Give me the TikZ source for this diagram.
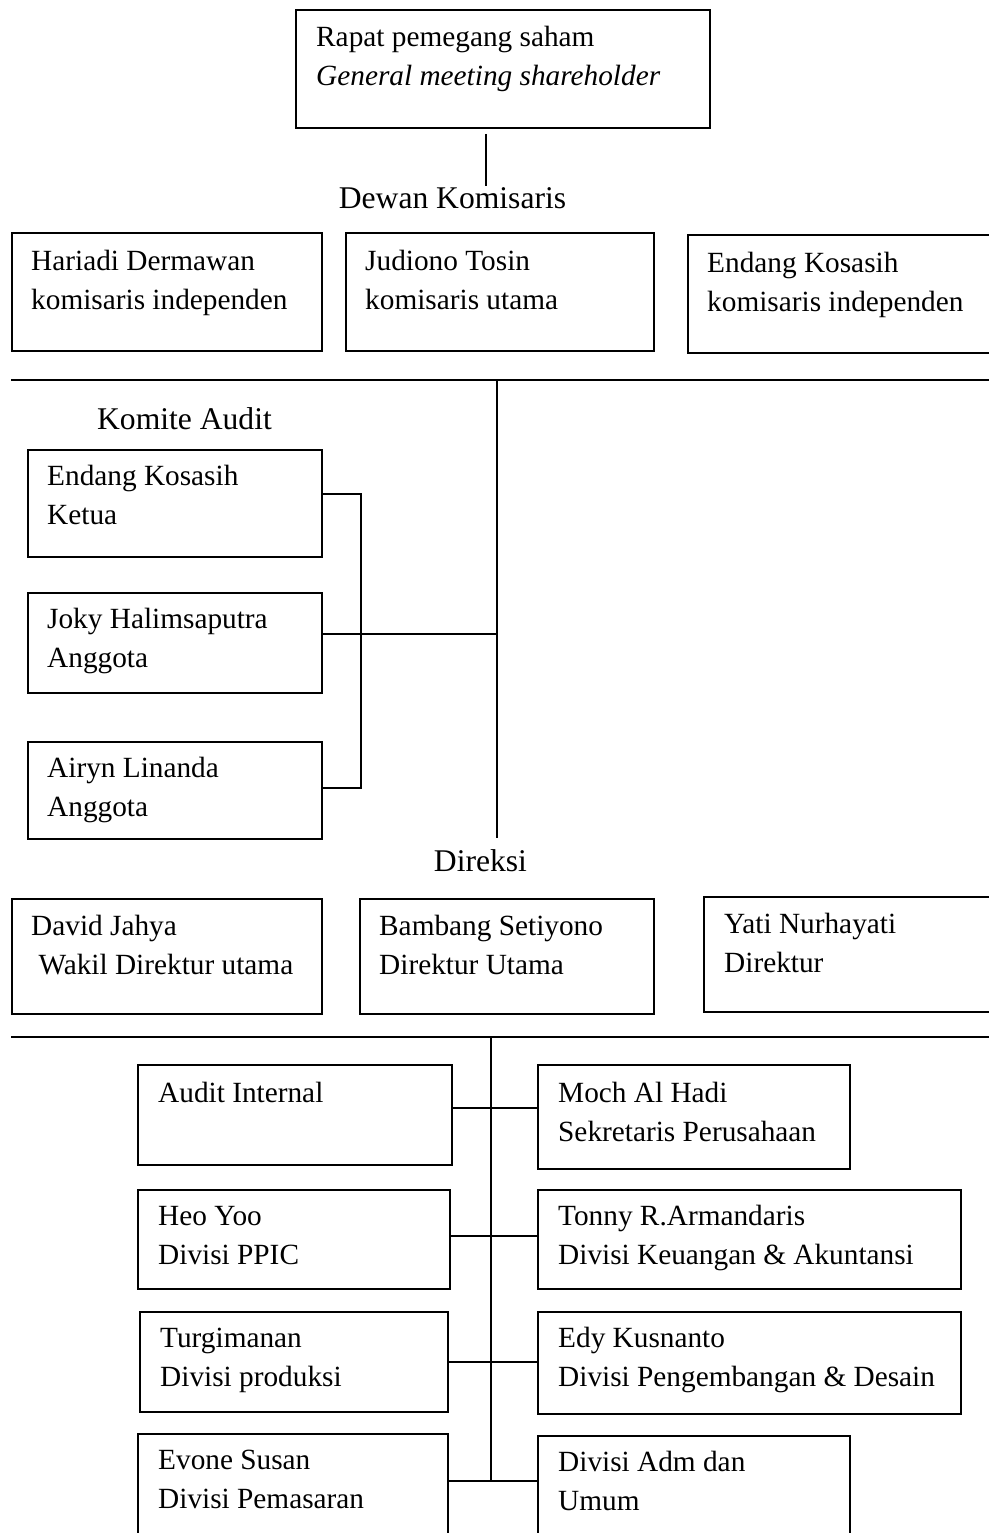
\documentclass[tikz,border=0pt]{standalone}
\usepackage{fontspec}
\setmainfont{Liberation Serif}
\newcommand\orgbody{\fontsize{29.3}{39}\selectfont}
\newcommand\orghead{\fontsize{31.6}{38}\selectfont}
\begin{document}
\begin{tikzpicture}[x=1pt,y=-1pt,
  box/.style={draw, line width=1.8pt, inner sep=0pt, anchor=north west},
  txt/.style={anchor=north west, inner sep=0pt, align=left, font=\orgbody},
  head/.style={anchor=base, inner sep=0pt, font=\orghead},
  wire/.style={line width=1.6pt}]
\useasboundingbox (0,0) rectangle (988,1533);
\fill[white] (0,0) rectangle (988,1533);

% top
\node[box, minimum width=414pt, minimum height=118pt] (rps) at (295,9) {};
\node[txt] (rpst) at ([xshift=21pt,yshift=-10.2pt]rps.north west) {\strut Rapat pemegang saham\\\textit{General meeting shareholder}};
\coordinate (v1a) at (486,134);
\coordinate (v1b) at (486,186);
\draw[wire] (v1a) -- (v1b);

% Dewan Komisaris
\node[head] (dk) at (452.5,208.3) {Dewan Komisaris};
\node[box, minimum width=310pt, minimum height=118pt] (hd) at (11,232) {};
\node[txt] (hdt) at ([xshift=20pt,yshift=-10.7pt]hd.north west) {\strut Hariadi Dermawan\\komisaris independen};
\node[box, minimum width=308pt, minimum height=118pt] (jt) at (345,232) {};
\node[txt] (jtt) at ([xshift=20pt,yshift=-10.7pt]jt.north west) {\strut Judiono Tosin\\komisaris utama};
\node[box, minimum width=340pt, minimum height=118pt] (ek) at (687,234) {};
\node[txt] (ekt) at ([xshift=20pt,yshift=-10.7pt]ek.north west) {\strut Endang Kosasih\\komisaris independen};

\coordinate (h1l) at (11,380);
\coordinate (h1r) at (995,380);
\draw[wire] (h1l) -- (h1r);
\coordinate (s1top) at (497,380);
\coordinate (s1bot) at (497,838);
\draw[wire] (s1top) -- (s1bot);

% Komite Audit
\node[head] (ka) at (184.5,429) {Komite Audit};
\node[box, minimum width=294pt, minimum height=107pt] (eka) at (27,449) {};
\node[txt] (ekat) at ([xshift=20pt,yshift=-8.7pt]eka.north west) {\strut Endang Kosasih\\Ketua};
\node[box, minimum width=294pt, minimum height=100pt] (jh) at (27,592) {};
\node[txt] (jht) at ([xshift=20pt,yshift=-8.7pt]jh.north west) {\strut Joky Halimsaputra\\Anggota};
\node[box, minimum width=294pt, minimum height=97pt] (al) at (27,741) {};
\node[txt] (alt) at ([xshift=20pt,yshift=-8.7pt]al.north west) {\strut Airyn Linanda\\Anggota};

\coordinate (b1) at (361,494);
\coordinate (b3) at (361,788);
\coordinate (b2) at (497,634);
\draw[wire] (b1 -| eka.east) -- (b1) -- (b3) -- (b3 -| al.east);
\draw[wire] (b2 -| jh.east) -- (b2);

% Direksi
\node[head] (dr) at (480.5,871) {Direksi};
\node[box, minimum width=310pt, minimum height=115pt] (dj) at (11,898) {};
\node[txt] (djt) at ([xshift=20pt,yshift=-9.7pt]dj.north west) {\strut David Jahya\\\hspace*{7.3pt}Wakil Direktur utama};
\node[box, minimum width=294pt, minimum height=115pt] (bs) at (359,898) {};
\node[txt] (bst) at ([xshift=20pt,yshift=-9.7pt]bs.north west) {\strut Bambang Setiyono\\Direktur Utama};
\node[box, minimum width=330pt, minimum height=115pt] (yn) at (703,896) {};
\node[txt] (ynt) at ([xshift=21pt,yshift=-9.7pt]yn.north west) {\strut Yati Nurhayati\\Direktur};

\coordinate (h2l) at (11,1037);
\coordinate (h2r) at (995,1037);
\draw[wire] (h2l) -- (h2r);
\coordinate (s2top) at (491,1037);
\coordinate (s2bot) at (491,1481);
\draw[wire] (s2top) -- (s2bot);

% divisions
\node[box, minimum width=314pt, minimum height=100pt] (ai) at (137,1064) {};
\node[txt] (ait) at ([xshift=21pt,yshift=-10.7pt]ai.north west) {\strut Audit Internal};
\node[box, minimum width=312pt, minimum height=104pt] (mah) at (537,1064) {};
\node[txt] (maht) at ([xshift=21pt,yshift=-10.7pt]mah.north west) {\strut Moch Al Hadi\\Sekretaris Perusahaan};

\node[box, minimum width=312pt, minimum height=99pt] (hy) at (137,1189) {};
\node[txt] (hyt) at ([xshift=21pt,yshift=-8.7pt]hy.north west) {\strut Heo Yoo\\Divisi PPIC};
\node[box, minimum width=423pt, minimum height=99pt] (tra) at (537,1189) {};
\node[txt] (trat) at ([xshift=21pt,yshift=-8.7pt]tra.north west) {\strut Tonny R.Armandaris\\Divisi Keuangan \& Akuntansi};

\node[box, minimum width=308pt, minimum height=100pt] (tg) at (139,1311) {};
\node[txt] (tgt) at ([xshift=21pt,yshift=-8.7pt]tg.north west) {\strut Turgimanan\\Divisi produksi};
\node[box, minimum width=423pt, minimum height=102pt] (eku) at (537,1311) {};
\node[txt] (ekut) at ([xshift=21pt,yshift=-8.7pt]eku.north west) {\strut Edy Kusnanto\\Divisi Pengembangan \& Desain};

\node[box, minimum width=310pt, minimum height=130pt] (es) at (137,1433) {};
\node[txt] (est) at ([xshift=21pt,yshift=-8.7pt]es.north west) {\strut Evone Susan\\Divisi Pemasaran};
\node[box, minimum width=312pt, minimum height=130pt] (adm) at (537,1435) {};
\node[txt] (admt) at ([xshift=21pt,yshift=-8.7pt]adm.north west) {\strut Divisi Adm dan\\Umum};

\coordinate (c1) at (491,1108);
\coordinate (c2) at (491,1236);
\coordinate (c3) at (491,1362);
\coordinate (c4) at (491,1481);
\draw[wire] (c1 -| ai.east) -- (c1 -| mah.west);
\draw[wire] (c2 -| hy.east) -- (c2 -| tra.west);
\draw[wire] (c3 -| tg.east) -- (c3 -| eku.west);
\draw[wire] (c4 -| es.east) -- (c4 -| adm.west);
\end{tikzpicture}
\end{document}
